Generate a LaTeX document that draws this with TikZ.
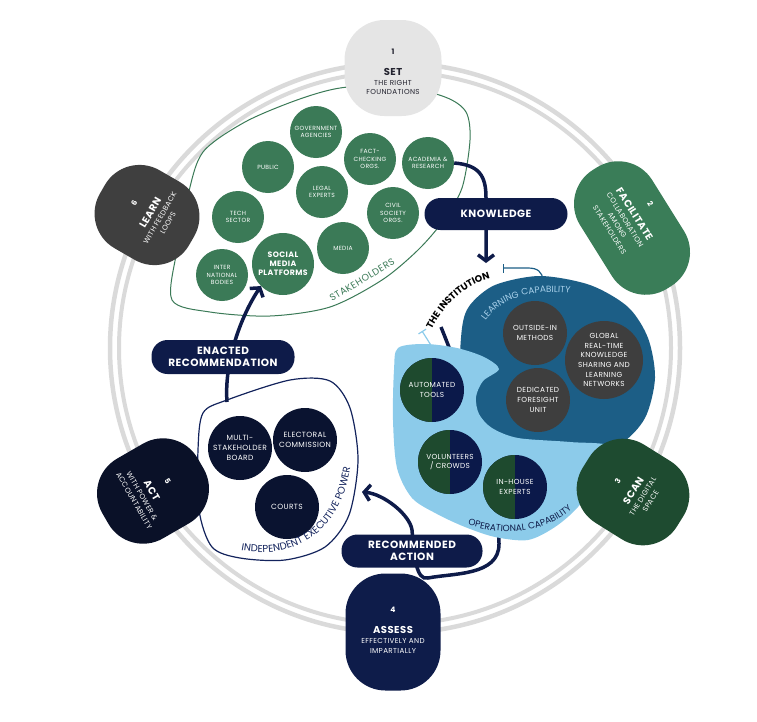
\documentclass[tikz,border=0pt]{standalone}
\usepackage{fontspec}
\setmainfont{Poppins}[LetterSpace=5]
\usetikzlibrary{arrows.meta,decorations.text}

\definecolor{ringgray}{HTML}{DADADA}
\definecolor{setgray}{HTML}{E5E5E5}
\definecolor{setink}{HTML}{23232F}
\definecolor{facgreen}{HTML}{3A7D58}
\definecolor{scangreen}{HTML}{1E4B30}
\definecolor{assessnavy}{HTML}{0E1C4A}
\definecolor{actnavy}{HTML}{0A1128}
\definecolor{learngray}{HTML}{3F3F3F}
\definecolor{stakegreen}{HTML}{3B7A57}
\definecolor{pillnavy}{HTML}{0E1B49}
\definecolor{powernavy}{HTML}{0A1330}
\definecolor{powerline}{HTML}{13235C}
\definecolor{learnblue}{HTML}{1C5E86}
\definecolor{learntext}{HTML}{A8D0EA}
\definecolor{opblue}{HTML}{8CCBEA}
\definecolor{opgreen}{HTML}{1E4A2E}
\definecolor{opnavy}{HTML}{0B194A}
\definecolor{capgray}{HTML}{3E3E3E}

\newcommand\stnum[1]{{\bfseries\fontsize{7.5}{8}\selectfont#1}}
\newcommand\sthead[1]{{\bfseries\fontsize{10}{11}\selectfont#1}}

\pgfdeclarelayer{flows}
\pgfsetlayers{flows,main}

\tikzset{
  stage/.style={rounded corners=40pt, inner sep=0pt},
  stagetext/.style={inner sep=0pt, align=center, text=white, font=\fontsize{7.2}{9.2}\selectfont},
  stake/.style={circle, fill=stakegreen, minimum size=52pt, inner sep=0pt, align=center, text=white, font=\fontsize{6}{7.5}\selectfont},
  capab/.style={circle, fill=capgray, minimum size=64pt, inner sep=0pt, align=center, text=white, font=\fontsize{7.3}{9.7}\selectfont},
  oper/.style={circle, fill=opnavy, minimum size=64pt, inner sep=0pt, align=center, text=white, font=\fontsize{7.3}{9.7}\selectfont,
    path picture={\fill[opgreen] (path picture bounding box.south west) rectangle (path picture bounding box.north);}},
  power/.style={circle, fill=powernavy, minimum size=64pt, inner sep=0pt, align=center, text=white, font=\fontsize{7.5}{10}\selectfont},
  pill/.style={rounded corners=16pt, fill=pillnavy, text=white, inner sep=0pt, align=center, font=\bfseries\fontsize{10.5}{11.5}\selectfont},
  flow/.style={draw=pillnavy, line width=3.5pt},
  barb/.style={-{Straight Barb[length=6pt,width=16pt]}}
}

\begin{document}
\begin{tikzpicture}[x=1pt, y=-1pt]
\useasboundingbox (0,0) rectangle (757,721);

%%%%% START %%%%%

% stakeholders
\node[stake] (gov) at (316,132) {GOVERNMENT\\AGENCIES};
\node[stake] (public) at (268,167) {PUBLIC};
\node[stake] (factcheck) at (370,159) {FACT-\\CHECKING\\ORGS.};
\node[stake] (academia) at (428,163) {ACADEMIA \&\\RESEARCH};
\node[stake] (legal) at (322,192) {LEGAL\\EXPERTS};
\node[stake] (tech) at (238,217) {TECH\\SECTOR};
\node[stake] (civil) at (393,213) {CIVIL\\SOCIETY\\ORGS.};
\node[stake] (media) at (343,248) {MEDIA};
\node[stake, minimum size=62pt, font=\bfseries\fontsize{7.8}{9}\selectfont] (social) at (283,264) {SOCIAL\\MEDIA\\PLATFORMS};
\node[stake] (intl) at (222,275) {INTER\\NATIONAL\\BODIES};
\node[rotate=31, text=stakegreen, font=\fontsize{9.5}{10}\selectfont] (stakelabel) at (362,280) {STAKEHOLDERS};

% independent executive power
\node[power] (board) at (240,448) {MULTI-\\STAKEHOLDER\\BOARD};
\node[power] (electoral) at (305,440) {ELECTORAL\\COMMISSION};
\node[power] (courts) at (287,507) {COURTS};
\path[decorate, decoration={text along path, text align=center, text color=powerline,
  text={|\fontsize{10}{11}\selectfont|INDEPENDENT EXECUTIVE POWER}}]
  (216,543) .. controls (280,569) and (352,542) .. (352,441);

% the institution
\fill[learnblue] plot[smooth cycle] coordinates {(462,328) (470,305) (495,285) (540,276) (590,285) (628,307)
  (648,338) (655,378) (645,418) (620,444) (580,452) (520,450) (470,430) (460,380)};
\fill[opblue] plot[smooth cycle] coordinates {(398,348) (425,344) (457,348) (484,357) (499,369) (483,381)
  (476,397) (479,414) (492,428) (518,438) (570,442) (612,447) (598,478) (578,507) (555,527) (528,540)
  (495,537) (465,527) (437,514) (412,498) (397,468) (393,420) (394,370)};
\node[capab] (outside) at (535,333) {OUTSIDE-IN\\METHODS};
\node[capab, minimum size=78pt] (global) at (604,360) {GLOBAL\\REAL-TIME\\KNOWLEDGE\\SHARING AND\\LEARNING\\NETWORKS};
\node[capab] (foresight) at (538,400) {DEDICATED\\FORESIGHT\\UNIT};
\node[oper] (automated) at (432,390) {AUTOMATED\\TOOLS};
\node[oper] (volunteers) at (450,462) {VOLUNTEERS\\/ CROWDS};
\node[oper] (inhouse) at (515,487) {IN-HOUSE\\EXPERTS};
\path[decorate, decoration={text along path, text align=center, text color=learntext,
  text={|\fontsize{9}{10}\selectfont|LEARNING CAPABILITY}}]
  (476,345) .. controls (484,296) and (540,282) .. (596,299);
\path[decorate, decoration={text along path, text align=center, text color=pillnavy,
  text={|\fontsize{9}{10}\selectfont|OPERATIONAL CAPABILITY}}]
  (442,514) .. controls (495,542) and (558,539) .. (590,488);
\path[decorate, decoration={text along path, text align=center, text color=black,
  text={|\bfseries\fontsize{9.5}{10}\selectfont|THE INSTITUTION}}]
  (425,344) .. controls (440,305) and (468,279) .. (506,276);
\draw[learnblue, line width=1.2pt, {Bar[width=9pt]}-] (503,268) -- (528,268) .. controls (538,268) and (542,272) .. (543,280);
\draw[opblue, line width=1.2pt, {Bar[width=9pt]}-] (422,331) -- (434,350);

% pills
\node[pill, minimum width=143pt, minimum height=32pt] (knowledge) at (496,214) {KNOWLEDGE};
\node[pill, minimum width=143pt, minimum height=34pt] (enacted) at (223,357) {ENACTED\\RECOMMENDATION};
\node[pill, minimum width=141pt, minimum height=33pt] (recommended) at (412,551) {RECOMMENDED\\ACTION};

\coordinate (instin) at (486,263);
\coordinate (instout) at (441,327);
\coordinate (powertop) at (227,402);
\coordinate (powerin) at (362,492);

% the six stages
\node[stage, fill=setgray, minimum width=97pt, minimum height=96pt] (set) at (393,68) {};
\node[stagetext, text=setink] (set-t) at (393,72) {\stnum{1}\\[11pt]\sthead{SET}\\[1pt]THE RIGHT\\FOUNDATIONS};
\node[stage, fill=facgreen, minimum width=140pt, minimum height=85pt, rotate=-58] (facilitate) at (632,228) {};
\node[stagetext, rotate=-58] (facilitate-t) at (630,217) {\stnum{2}\\[10pt]\sthead{FACILITATE}\\[1pt]COLLABORATION\\AMONG\\STAKEHOLDERS};
\node[stage, fill=scangreen, minimum width=92pt, minimum height=111pt, rotate=58] (scan) at (633,492) {};
\node[stagetext, rotate=58] (scan-t) at (634,491) {\stnum{3}\\[10pt]\sthead{SCAN}\\[1pt]THE DIGITAL\\SPACE};
\node[stage, fill=assessnavy, minimum width=95pt, minimum height=117pt] (assess) at (393,632) {};
\node[stagetext] (assess-t) at (393,630) {\stnum{4}\\[12pt]\sthead{ASSESS}\\[1pt]EFFECTIVELY AND\\IMPARTIALLY};
\node[stage, fill=actnavy, minimum width=92pt, minimum height=110pt, rotate=-60] (act) at (153,491) {};
\node[stagetext, rotate=-60] (act-t) at (151,491) {\stnum{5}\\[10pt]\sthead{ACT}\\[1pt]WITH POWER \&\\ACCOUNTABILITY};
\node[stage, fill=learngray, minimum width=90pt, minimum height=103pt, rotate=60] (learn) at (147,215) {};
\node[stagetext, rotate=60] (learn-t) at (151,213) {\stnum{6}\\[10pt]\sthead{LEARN}\\[1pt]WITH FEEDBACK\\LOOPS};

% ring, outlines and flows underneath
\begin{pgfonlayer}{flows}
\draw[ringgray, line width=4.5pt] (395,348) circle[radius=285];
\draw[ringgray, line width=4pt] (395,348) circle[radius=276];
\filldraw[fill=white, draw=stakegreen, line width=1pt] plot[smooth cycle] coordinates {(172,300) (177,250) (188,195)
  (203,152) (245,122) (297,100) (340,88) (395,85) (445,97) (466,112) (470,140) (462,188) (443,221) (418,250)
  (382,280) (330,307) (270,316) (210,312)};
\draw[powerline, line width=1.2pt] plot[smooth cycle] coordinates {(203,413) (227,400) (290,380) (330,381)
  (350,408) (358,460) (349,515) (325,547) (285,560) (240,558) (212,547) (199,510) (198,450)};
\draw[flow, barb] (academia.east) .. controls +(25,2) and +(0,-22) .. (knowledge.north -| instin) -- (instin);
\draw[flow, barb] (powertop) .. controls +(-3,-40) and +(-20,30) .. (social.south west);
\draw[flow, barb] (instout) .. controls +(18,45) and +(0,-70) .. (499,544) .. controls +(0,32) and +(25,-5) .. (428,578)
  .. controls +(-12,3) and +(2,25) .. (412,530) .. controls +(-2,-15) and +(22,2) .. (powerin);
\end{pgfonlayer}

%%%%% END %%%%%
\end{tikzpicture}
\end{document}
